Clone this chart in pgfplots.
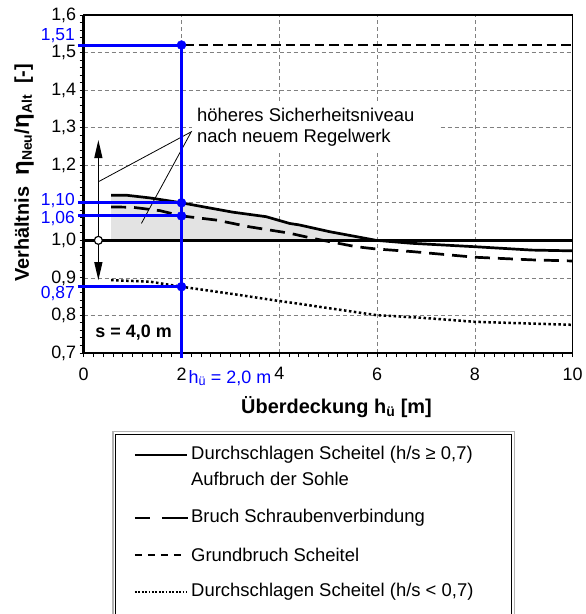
\documentclass[border=0pt]{standalone}
\usepackage{fontspec}
\setmainfont{Liberation Sans}
\usepackage{pgfplots}
\pgfplotsset{compat=1.18}
\usetikzlibrary{arrows.meta}
\definecolor{refblue}{RGB}{0,0,255}
\begin{document}
\begin{tikzpicture}
\useasboundingbox (-83.7bp,-261bp) rectangle (502.3bp,353bp);
\begin{axis}[
  scale only axis, width=489bp, height=338bp,
  xmin=0, xmax=10, ymin=0.7, ymax=1.6,
  clip=false,
  xtick={0,2,4,6,8,10},
  ytick={0.7,0.8,0.9,1.0,1.1,1.2,1.3,1.4,1.5,1.6},
  yticklabels={{0,7},{0,8},{0,9},{1,0},{},{1,2},{1,3},{1,4},{1,5},{1,6}},
  minor x tick num=9, minor y tick num=4,
  tick align=outside, tick pos=left,
  major tick length=4bp, minor tick length=4bp,
  tick style={black, line width=1bp},
  every minor tick/.style={black, line width=1bp},
  grid=major,
  major grid style={gray, line width=0.7bp, dash pattern=on 4bp off 3bp},
  axis line style={line width=1.5bp},
  /pgf/number format/assume math mode=true,
  ticklabel style={font=\fontsize{18}{21}\selectfont},
  xticklabel style={yshift=-7bp},
  xlabel={Überdeckung h\textsubscript{ü} [m]},
  xlabel style={at={(axis description cs:0.517,-0.159)}, anchor=center, font=\fontsize{20}{24}\selectfont\bfseries},
  ylabel={Verhältnis\ \ {\fontsize{24}{24}\selectfont η}\textsubscript{Neu}/{\fontsize{24}{24}\selectfont η}\textsubscript{Alt}\ \ [-]},
  ylabel style={at={(axis description cs:-0.122,0.533)}, anchor=center, font=\fontsize{20}{24}\selectfont\bfseries},
]
% shaded region
\addplot[draw=none, fill=gray!22] coordinates {(0.56,1.0)(0.56,1.12)(0.88,1.12)(1.35,1.113)(2.0,1.10)(2.5,1.088)(3.05,1.075)(3.73,1.063)(4.21,1.045)(4.41,1.041)(5.03,1.023)(5.57,1.01)(5.98,1.0)} -- cycle;
% annotation text box
\fill[white] (axis cs:2.213,1.368) rectangle (axis cs:7.28,1.24);
\node[anchor=west, inner sep=0pt, align=left, font=\fontsize{18.5}{21}\selectfont] at (axis cs:2.315,1.30) {höheres Sicherheitsniveau\\nach neuem Regelwerk};
% reference line 1.0
\addplot[black, line width=3bp] coordinates {(0,1.0)(10,1.0)};
% Durchschlagen Scheitel (h/s >= 0,7)
\addplot[black, line width=2.7bp] coordinates {(0.56,1.12)(0.88,1.12)(1.35,1.113)(2.0,1.10)(2.5,1.088)(3.05,1.075)(3.73,1.063)(4.21,1.045)(4.41,1.041)(5.03,1.023)(5.57,1.01)(5.98,1.0)(6.72,0.992)(8,0.983)(9.17,0.974)(10,0.972)};
% Bruch Schraubenverbindung
\addplot[black, line width=2.7bp, dash pattern=on 15bp off 8bp] coordinates {(0.56,1.089)(1.0,1.088)(1.56,1.079)(2.0,1.065)(2.71,1.054)(3.39,1.036)(4.21,1.019)(4.69,1.005)(5.57,0.983)(5.98,0.977)(6.72,0.97)(8,0.955)(9.17,0.948)(10,0.945)};
% Grundbruch Scheitel
\addplot[black, line width=2.7bp, dash pattern=on 9.5bp off 5bp] coordinates {(0.57,1.52)(10,1.52)};
% Durchschlagen Scheitel (h/s < 0,7)
\addplot[black, line width=2.5bp, dash pattern=on 2.5bp off 2.5bp] coordinates {(0.56,0.894)(1.35,0.89)(2.0,0.8765)(3.05,0.857)(3.97,0.839)(4.41,0.831)(5.03,0.819)(5.98,0.801)(7,0.793)(8,0.783)(10,0.775)};
% annotation lines and arrows
\draw[black, line width=0.8bp] (axis cs:0.3,1.156) -- (axis cs:2.2,1.289) -- (axis cs:1.18,1.045);
\draw[black, line width=1.2bp, -{Triangle[length=18bp,width=8bp]}] (axis cs:0.3,1.012) -- (axis cs:0.3,1.267);
\draw[black, line width=1.2bp, -{Triangle[length=18bp,width=8bp]}] (axis cs:0.3,0.988) -- (axis cs:0.3,0.894);
\addplot[only marks, mark=*, mark size=4bp, mark options={fill=white, draw=black, line width=1.2bp}] coordinates {(0.3,1.0)};
\node[font=\fontsize{18}{21}\selectfont\bfseries] at (axis cs:1.02,0.754) {s = 4,0 m};
% thick left and bottom axis lines
\draw[black, line width=2.7bp] (rel axis cs:0,1) -- (rel axis cs:0,0) -- (rel axis cs:1,0);
% blue reading lines
\addplot[refblue, line width=3bp] coordinates {(2,0.687)(2,1.52)};
\addplot[refblue, line width=3bp] coordinates {(-0.12,1.52)(2,1.52)};
\addplot[refblue, line width=3bp] coordinates {(-0.12,1.10)(2,1.10)};
\addplot[refblue, line width=3bp] coordinates {(-0.12,1.065)(2,1.065)};
\addplot[refblue, line width=3bp] coordinates {(-0.12,0.8765)(2,0.8765)};
\addplot[only marks, mark=*, mark size=4.5bp, refblue] coordinates {(2,1.52)(2,1.10)(2,1.065)(2,0.8765)};
\node[anchor=east, inner sep=0pt, text=refblue, font=\fontsize{17.5}{21}\selectfont] at (axis cs:-0.178,1.546) {1,51};
\node[anchor=east, inner sep=0pt, text=refblue, font=\fontsize{17.5}{21}\selectfont] at (axis cs:-0.178,1.107) {1,10};
\node[anchor=east, inner sep=0pt, text=refblue, font=\fontsize{17.5}{21}\selectfont] at (axis cs:-0.178,1.0586) {1,06};
\node[anchor=east, inner sep=0pt, text=refblue, font=\fontsize{17.5}{21}\selectfont] at (axis cs:-0.178,0.858) {0,87};
\node[anchor=west, inner sep=0pt, text=refblue, font=\fontsize{18}{21}\selectfont] at (axis cs:2.14,0.633) {h\textsubscript{ü} = 2,0 m};
\end{axis}
% legend (pixel coordinates)
\begin{scope}[shift={(-83.7bp,353bp)}, x=1bp, y=-1bp]
\draw[gray!60, line width=1.2bp] (113,620) -- (113,431.5) -- (514.3,431.5) -- (514.3,620);
\draw[black, line width=0.9bp] (115.5,620) -- (115.5,434) -- (511.7,434) -- (511.7,620);
\draw[black, line width=2.7bp] (135,455) -- (187,455);
\draw[black, line width=2.7bp] (135,518) -- (150,518);
\draw[black, line width=2.7bp] (162,518) -- (188,518);
\draw[black, line width=2.7bp, dash pattern=on 7bp off 6bp] (135,555) -- (187,555);
\draw[black, line width=1.8bp, dash pattern=on 1.8bp off 1.6bp] (135,592) -- (187,592);
\begin{scope}[every node/.style={anchor=west, inner sep=0pt, font=\fontsize{18.5}{21}\selectfont}]
\node at (191,455) {Durchschlagen Scheitel (h/s ≥ 0,7)};
\node at (191,479) {Aufbruch der Sohle};
\node at (191,518) {Bruch Schraubenverbindung};
\node at (191,555) {Grundbruch Scheitel};
\node at (191,592) {Durchschlagen Scheitel (h/s < 0,7)};
\end{scope}
\end{scope}
\end{tikzpicture}
\end{document}
